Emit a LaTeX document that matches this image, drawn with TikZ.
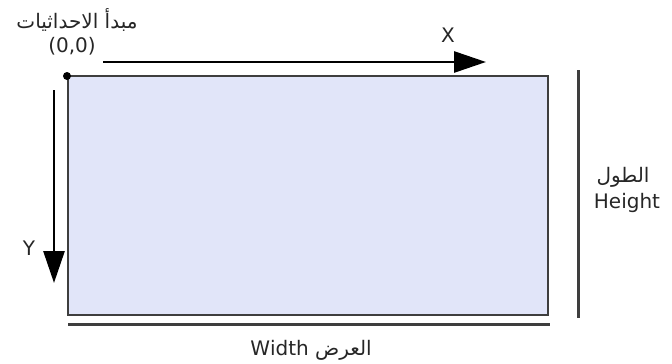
\documentclass[tikz,border=0pt]{standalone}
\usepackage{fontspec}
\setmainfont{DejaVu Sans}
\newfontfamily\arabicfont[Script=Arabic]{DejaVu Sans}
\TeXXeTstate=1
\usetikzlibrary{arrows.meta}
\definecolor{canvasfill}{HTML}{E1E5F9}
\definecolor{edge}{HTML}{3E3E3E}
\tikzset{
  canvasbox/.style={draw=edge, line width=2.2pt, fill=canvasfill},
  axis/.style={draw=black, line width=2.8pt, -{Triangle[length=32pt,width=21pt]}},
  dimline/.style={draw=edge, line width=3pt},
  lbl/.style={font=\arabicfont\fontsize{20}{24}\selectfont, text=black!85, inner sep=0pt, align=center},
}
\begin{document}
\begin{tikzpicture}[x=1pt,y=-1pt]
\useasboundingbox (0,0) rectangle (672,364);
\coordinate (tl) at (68,76);
\coordinate (br) at (548,315);
\draw[canvasbox] (tl) rectangle (br);
\fill[black] (67,76) circle (4);
\coordinate (xs) at (103,62);
\coordinate (xe) at (486,62);
\draw[axis] (xs) -- (xe);
\coordinate (ys) at (54,90);
\coordinate (ye) at (54,283);
\draw[axis] (ys) -- (ye);
\coordinate (rs) at (578,70);
\coordinate (re) at (578,318);
\draw[dimline] (rs) -- (re);
\coordinate (bs) at (68,324);
\coordinate (be) at (550,324);
\draw[dimline] (bs) -- (be);
\node[lbl] (origin) at (77,20) {\beginR مبدأ الاحداثيات\endR};
\node[lbl] (zero) at (72,46) {(0,0)};
\node[lbl] (xl) at (448,35) {X};
\node[lbl] (yl) at (29,248) {Y};
\node[lbl] (hAr) at (623,177) {\beginR الطول\endR};
\node[lbl] (hEn) at (627,203) {Height};
\node[lbl] (wl) at (311,350) {Width \beginR العرض\endR};
\end{tikzpicture}
\end{document}
